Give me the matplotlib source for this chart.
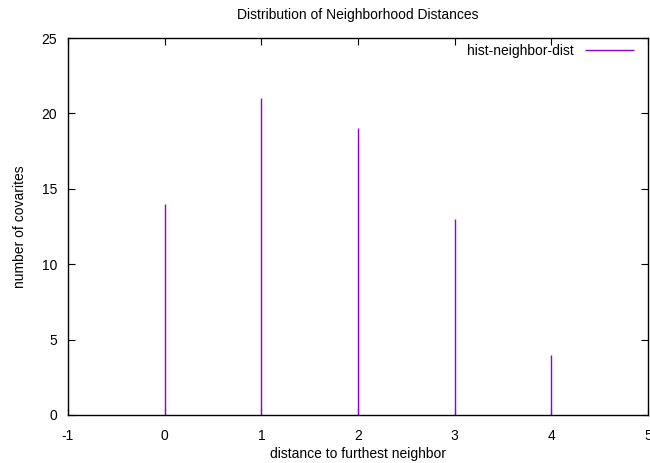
import matplotlib
matplotlib.use('Agg')
import matplotlib.pyplot as plt

plt.rcParams['font.family'] = ['Liberation Sans', 'DejaVu Sans']
plt.rcParams['font.size'] = 10
plt.rcParams['axes.unicode_minus'] = False

distance = [0, 1, 2, 3, 4]
covariates = [14, 21, 19, 13, 4]
xticks = [-1, 0, 1, 2, 3, 4, 5]
yticks = [0, 5, 10, 15, 20, 25]

fig = plt.figure(figsize=(6.5, 4.63), dpi=100)
ax = fig.add_axes([68 / 650, 48 / 463, 580 / 650, 377 / 463])

ax.vlines(distance, 0, covariates, colors='#9400D3', linewidth=1,
          label='hist-neighbor-dist')

ax.set_xlim(-1, 5)
ax.set_ylim(0, 25)
ax.set_xticks(xticks)
ax.set_yticks(yticks)
ax.tick_params(axis='x', direction='in', top=True, length=5, width=0.8,
               pad=10, labelsize=10)
ax.tick_params(axis='y', direction='in', right=True, length=5, width=0.8,
               pad=8, labelsize=10)
for s in ax.spines.values():
    s.set_linewidth(1)

ax.set_title('Distribution of Neighborhood Distances', fontsize=10, pad=14)
ax.set_xlabel('distance to furthest neighbor', fontsize=10, labelpad=3)
ax.set_ylabel('number of covarites', fontsize=10, labelpad=10)

leg = ax.legend(loc='upper right', frameon=False, markerfirst=False,
                handlelength=3.5, fontsize=10, borderaxespad=0.0,
                bbox_to_anchor=(0.985, 1.0))

fig.savefig('out.png', dpi=100)
